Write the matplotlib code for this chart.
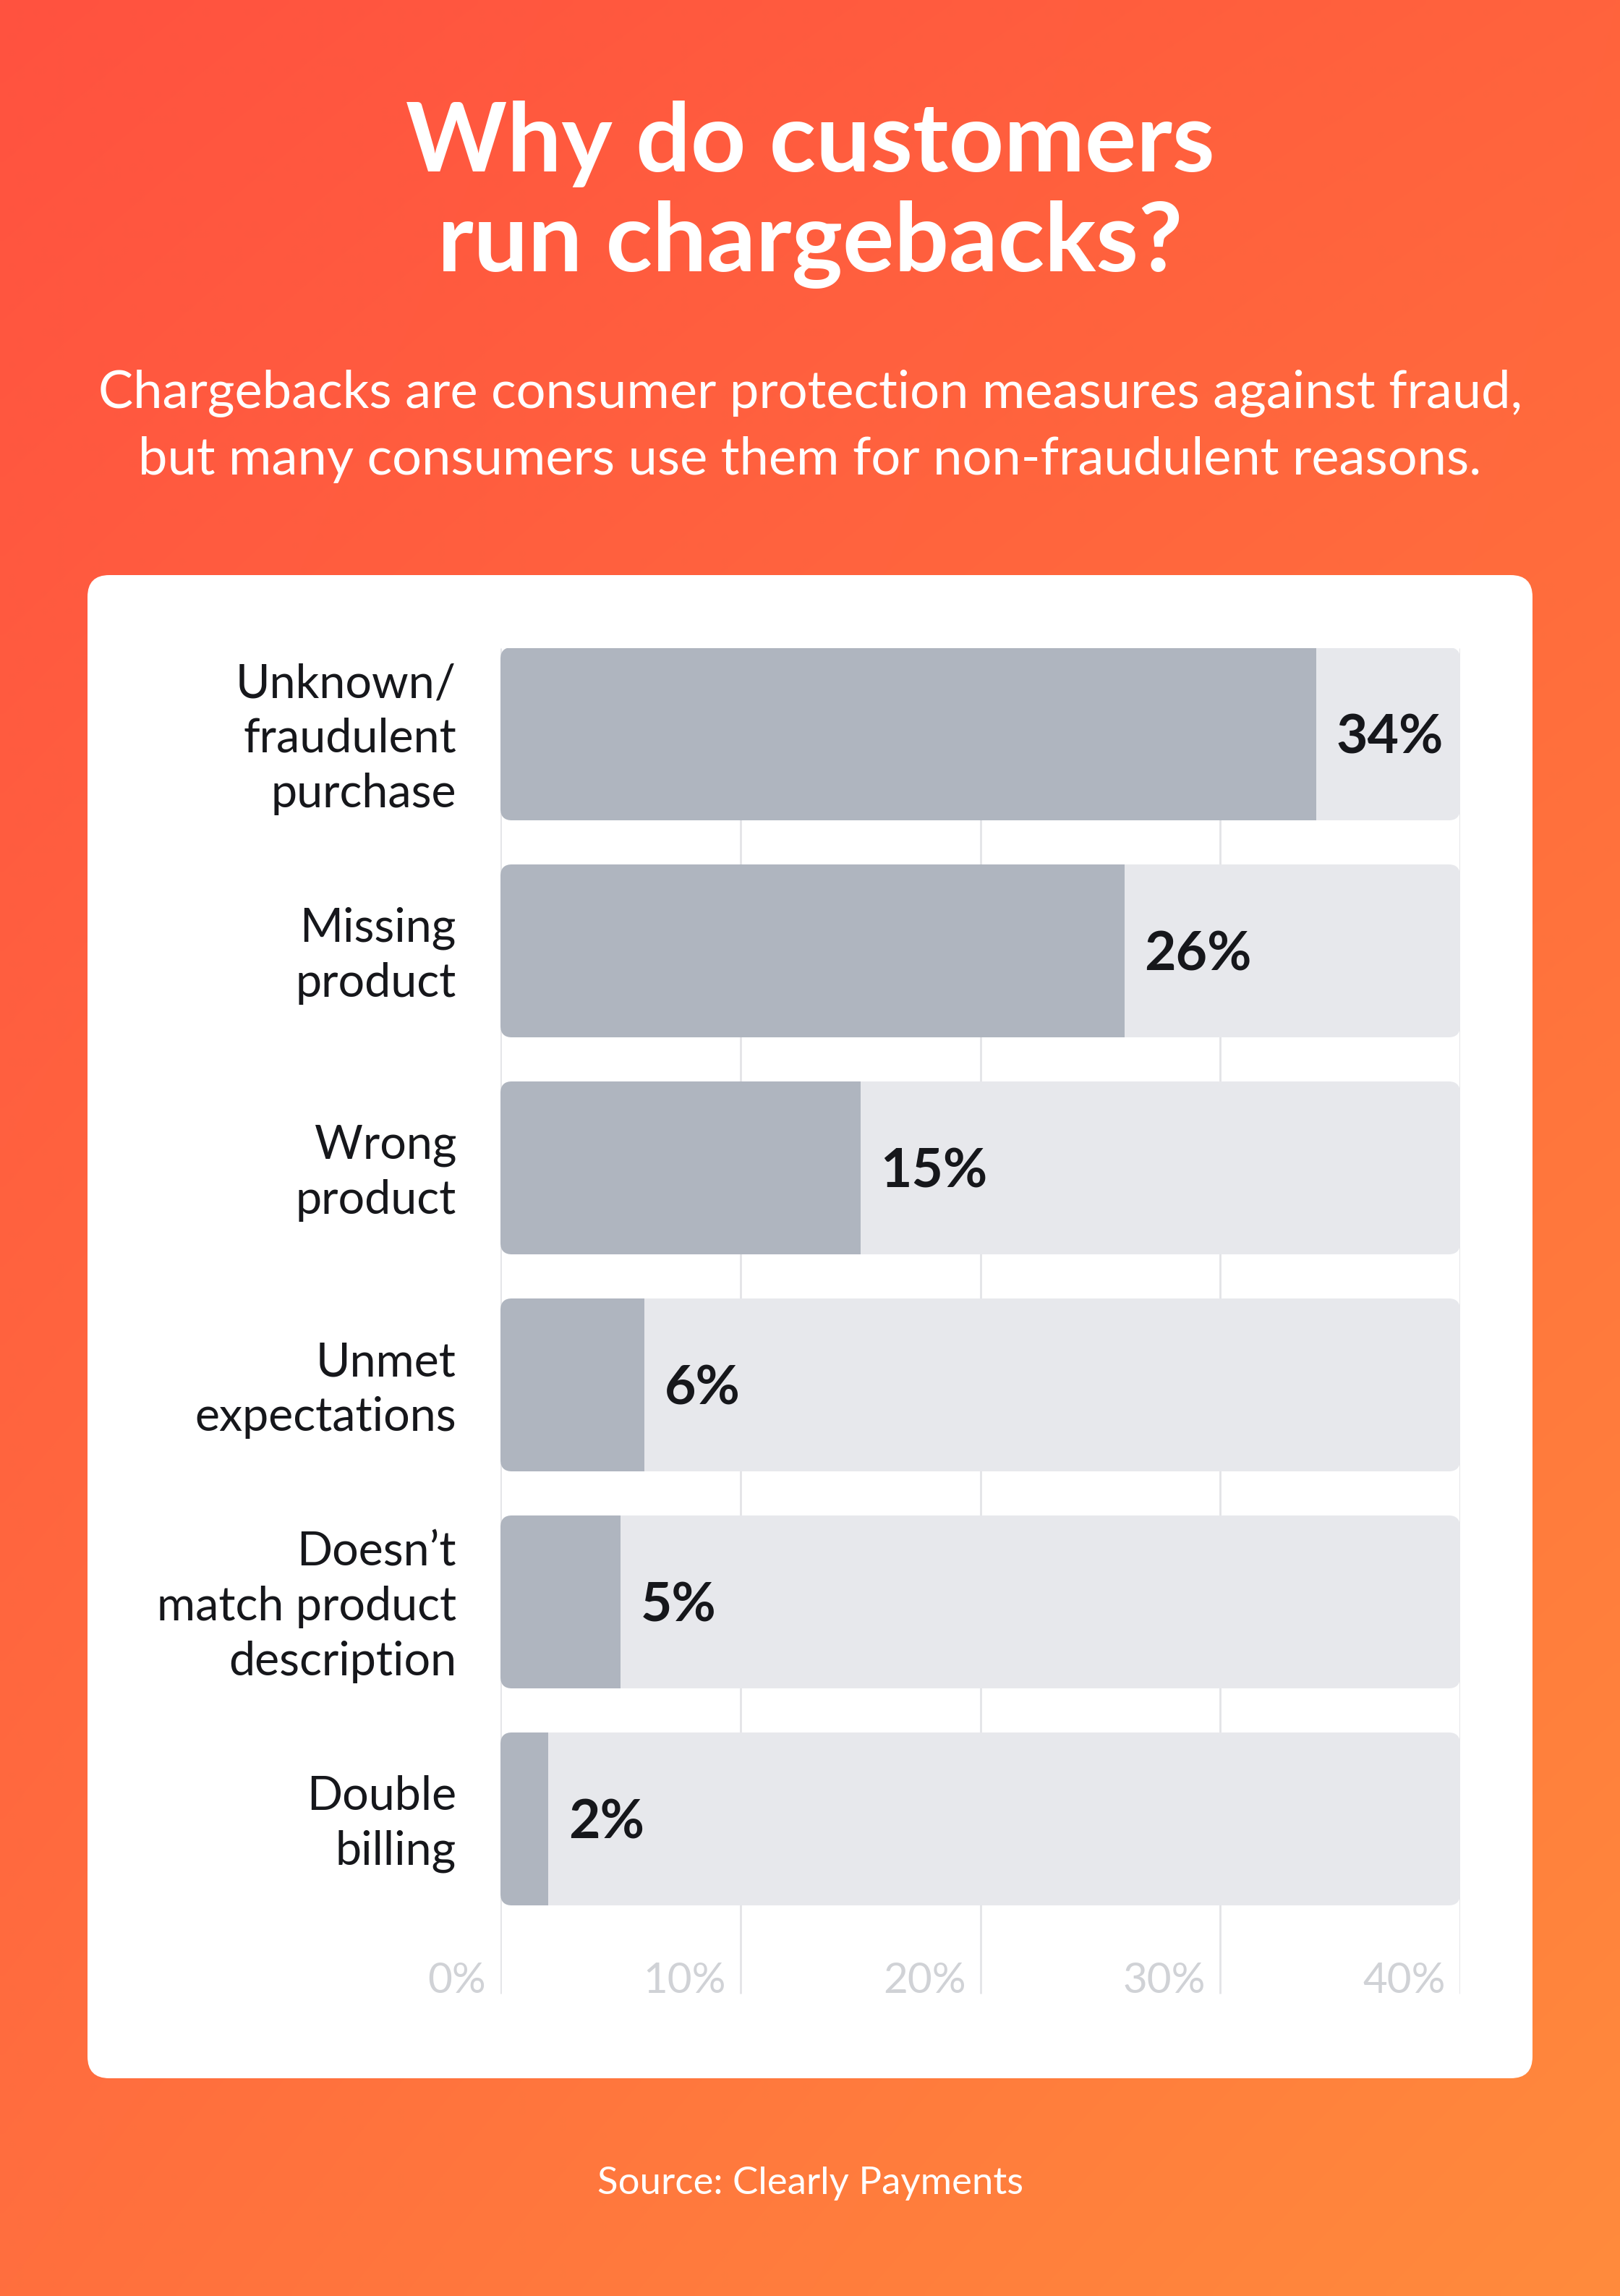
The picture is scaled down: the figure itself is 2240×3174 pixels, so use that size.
import numpy as np
import matplotlib
matplotlib.use("Agg")
import matplotlib.pyplot as plt
from matplotlib.patches import FancyBboxPatch
from matplotlib.transforms import offset_copy

# data
categories = ["Unknown/\nfraudulent\npurchase", "Missing\nproduct", "Wrong\nproduct",
              "Unmet\nexpectations", "Doesn\u2019t\nmatch product\ndescription", "Double\nbilling"]
values = [34, 26, 15, 6, 5, 2]
value_labels = ["34%", "26%", "15%", "6%", "5%", "2%"]
x_ticks = [0, 10, 20, 30, 40]
x_tick_labels = ["0%", "10%", "20%", "30%", "40%"]

W, H = 2240, 3174
FONT = "Lato"
plt.rcParams['font.family'] = [FONT, 'DejaVu Sans']

fig = plt.figure(figsize=(W / 100, H / 100), dpi=100)


def fx(px):
    return px / W


def fy(py):
    return 1 - py / H


# gradient background
bg = fig.add_axes([0, 0, 1, 1], zorder=-5)
bg.set_axis_off()
tl = np.array([255, 82, 64]) / 255
tr = np.array([255, 99, 61]) / 255
bl = np.array([255, 111, 62]) / 255
br = np.array([255, 139, 60]) / 255
u = np.linspace(0, 1, 200)[None, :, None]
v = np.linspace(0, 1, 280)[:, None, None]
grad = (1 - u) * (1 - v) * tl + u * (1 - v) * tr + (1 - u) * v * bl + u * v * br
bg.imshow(grad, extent=[0, 1, 0, 1], aspect='auto', interpolation='bilinear')
bg.set_xlim(0, 1)
bg.set_ylim(0, 1)

# white card
card = FancyBboxPatch((fx(121), fy(2873)), fx(2119 - 121), (2873 - 795) / H,
                      boxstyle="round,pad=0,rounding_size=%f" % fx(30),
                      mutation_aspect=W / H, transform=bg.transAxes,
                      facecolor="white", edgecolor="none", zorder=2)
bg.add_patch(card)

# title and subtitle
fig.text(0.5, fy(237), "Why do customers", ha='center', va='baseline', color='white',
         fontsize=96, fontweight='bold')
fig.text(0.5, fy(375), "run chargebacks?", ha='center', va='baseline', color='white',
         fontsize=96, fontweight='bold')
fig.text(0.5, fy(564), "Chargebacks are consumer protection measures against fraud,",
         ha='center', va='baseline', color='white', fontsize=52)
fig.text(0.5, fy(656), "but many consumers use them for non-fraudulent reasons.",
         ha='center', va='baseline', color='white', fontsize=52)
fig.text(0.5, fy(3033), "Source: Clearly Payments", ha='center', va='baseline',
         color='white', fontsize=38)

# bar axes
ax_top, ax_bot = 896, 2760
pitch = 300.0
c0 = 1014.5
ax = fig.add_axes([fx(692), fy(ax_bot), fx(2019 - 692), (ax_bot - ax_top) / H], zorder=1)
ax.set_xlim(0, 40)
ax.set_ylim((ax_bot - c0) / pitch, (ax_top - c0) / pitch)
ax.set_axis_off()
ax.patch.set_alpha(0)

bar_h = 239 / pitch

# gridlines
ax.vlines(x_ticks, (ax_top - c0) / pitch, (2756 - c0) / pitch, color="#e3e4e7",
          lw=2.0, zorder=0)

# rounded tracks, the fill is clipped to the track
px_per_x = (2019 - 692) / 40
aspect = (1 / pitch) / (1 / px_per_x)
r = 16 / px_per_x
for i, val in enumerate(values):
    clip = FancyBboxPatch((0, i - bar_h / 2), 40, bar_h,
                          boxstyle="round,pad=0,rounding_size=%f" % r,
                          mutation_aspect=aspect, transform=ax.transData)
    track = ax.barh(i, 40, height=bar_h, color="#e7e8ec", zorder=1)
    fill = ax.barh(i, val, height=bar_h, color="#afb5bf", zorder=2)
    for b in list(track) + list(fill):
        b.set_clip_path(clip)

# labels
lab_tr = offset_copy(ax.transData, fig=fig, x=-61, y=-7, units='dots')
val_tr = offset_copy(ax.transData, fig=fig, x=28, y=-5, units='dots')
tick_tr = offset_copy(ax.transData, fig=fig, x=-20, y=0, units='dots')
for i, (cat, val, vl) in enumerate(zip(categories, values, value_labels)):
    ax.text(0, i, cat, transform=lab_tr, ha='right', va='center', multialignment='right',
            fontsize=46.5, color="#16171b", linespacing=1.35, clip_on=False)
    ax.text(val, i, vl, transform=val_tr, ha='left', va='center', fontsize=54,
            fontweight='bold', fontstyle='normal', color="#16171b", zorder=3)
for t, tl_ in zip(x_ticks, x_tick_labels):
    ax.text(t, (2755 - c0) / pitch, tl_, transform=tick_tr, ha='right', va='baseline',
            fontsize=42, color="#d0d2d6", clip_on=False)

fig.savefig("out.png", dpi=100)
